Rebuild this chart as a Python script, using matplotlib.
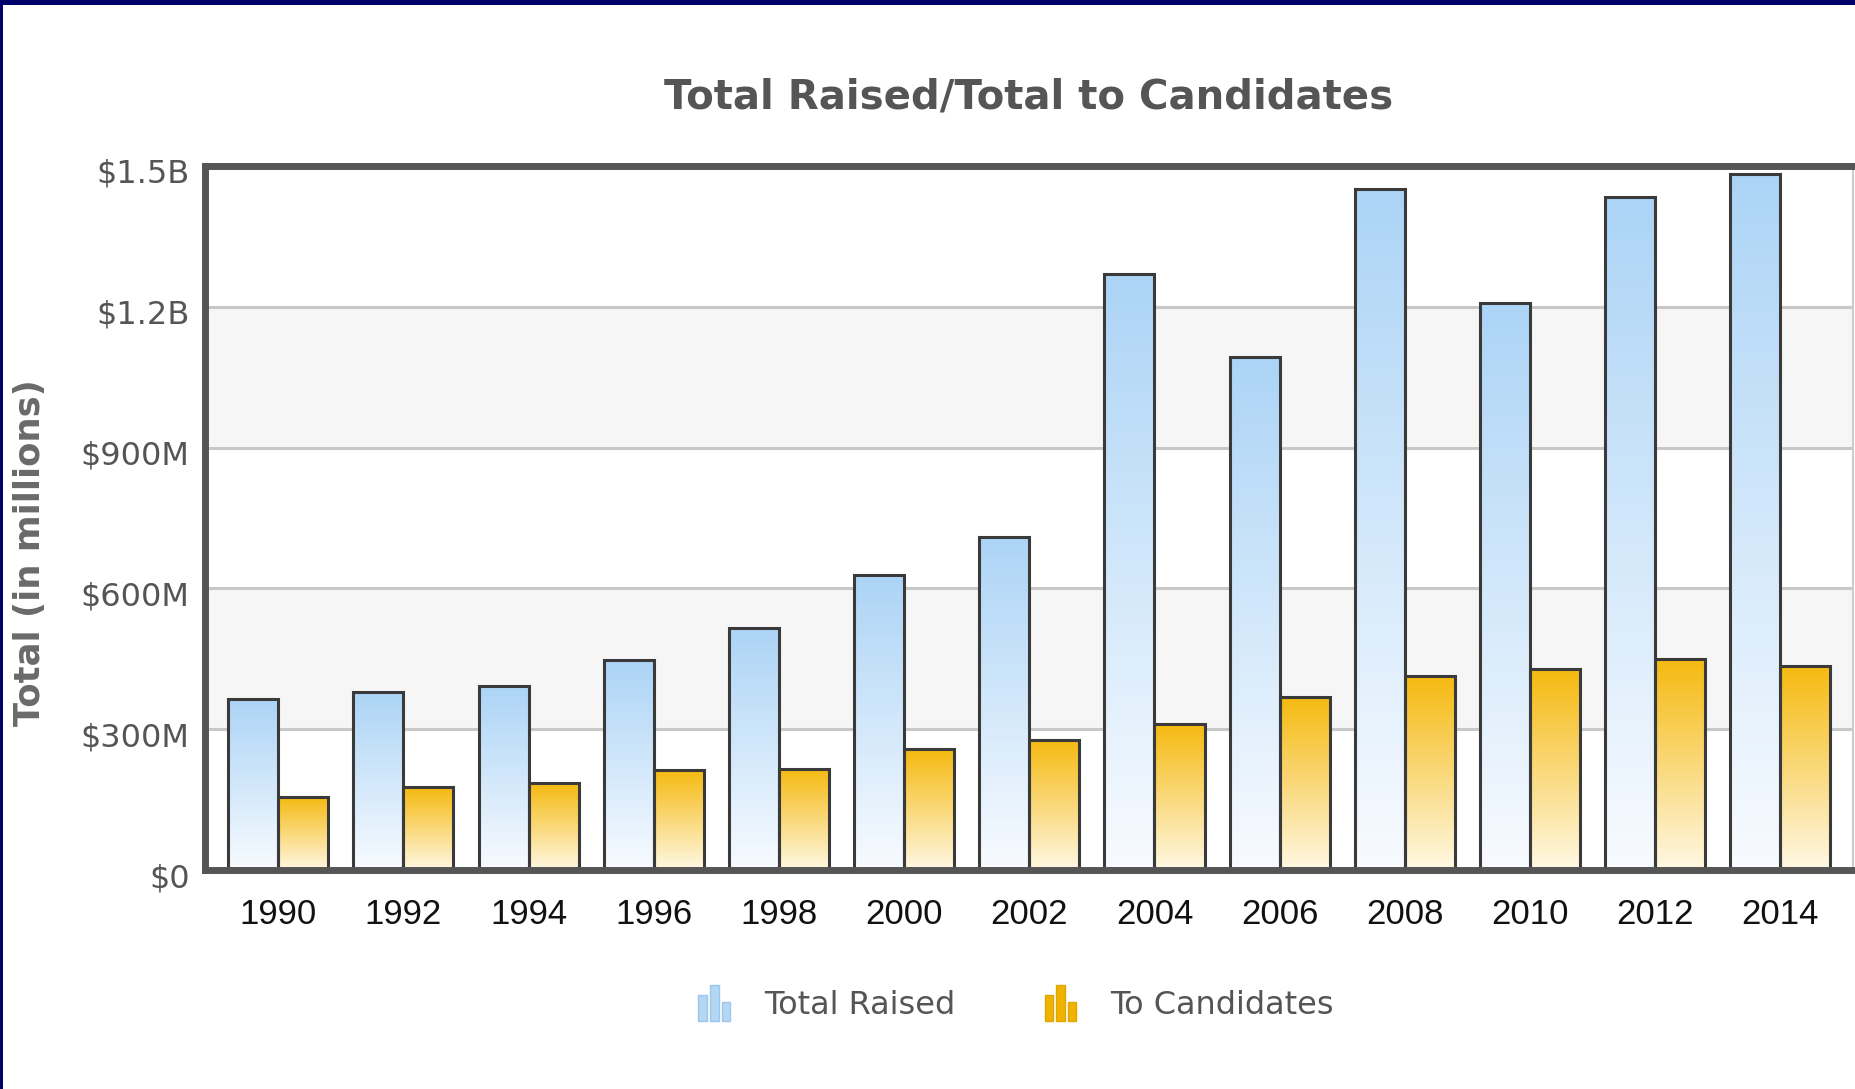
import numpy as np
import matplotlib
matplotlib.use("Agg")
import matplotlib.pyplot as plt
import matplotlib.transforms as mtransforms
from matplotlib.patches import Rectangle
from matplotlib.colors import LinearSegmentedColormap
from matplotlib.legend_handler import HandlerBase

years = ["1990", "1992", "1994", "1996", "1998", "2000", "2002",
         "2004", "2006", "2008", "2010", "2012", "2014"]
# millions of dollars
total_raised = [364, 379, 392, 447, 515, 628, 710, 1269, 1094, 1450, 1208, 1434, 1482]
to_candidates = [156, 176, 185, 214, 216, 257, 278, 312, 369, 414, 429, 450, 435]
y_ticks = [0, 300, 600, 900, 1200, 1500]
y_labels = ["$0", "$300M", "$600M", "$900M", "$1.2B", "$1.5B"]

W, H = 1855, 1089
fig = plt.figure(figsize=(W / 100, H / 100), dpi=100, facecolor="white")
ax = fig.add_axes([205 / W, 1 - 870 / H, (1853 - 205) / W, (870 - 166) / H])

x = np.arange(len(years))
bw = 0.4
grad = np.linspace(0, 1, 256).reshape(-1, 1)
blue_cmap = LinearSegmentedColormap.from_list("blue", ["#f8fbff", "#acd4f6"])
gold_cmap = LinearSegmentedColormap.from_list("gold", ["#fff8e4", "#f5b90f"])


def gradient_bars(xs, heights, cmap):
    bars = ax.bar(xs, heights, bw, facecolor="none", edgecolor="#3a3a3a",
                  linewidth=2.2, zorder=4)
    for b in bars:
        x0, y0 = b.get_x(), b.get_y()
        im = ax.imshow(grad, cmap=cmap, origin="lower", aspect="auto",
                       extent=(x0, x0 + b.get_width(), y0, y0 + b.get_height()),
                       zorder=3)
        im.set_clip_path(b)
    return bars


gradient_bars(x - bw / 2, total_raised, blue_cmap)
gradient_bars(x + bw / 2, to_candidates, gold_cmap)

# alternating bands + grid
ax.axhspan(300, 600, color="#f6f6f6", lw=0, zorder=0)
ax.axhspan(900, 1200, color="#f6f6f6", lw=0, zorder=0)
for yv in y_ticks[1:-1]:
    ax.axhline(yv, color="#c8c8c8", lw=2.2, zorder=1)

ax.set_xlim(-0.585, 12.58)
ax.set_ylim(0, 1500)

for side in ["left", "top", "bottom"]:
    ax.spines[side].set_color("#555555")
    ax.spines[side].set_linewidth(5)
    ax.spines[side].set_zorder(5)
ax.spines["right"].set_color("#cccccc")
ax.spines["right"].set_linewidth(1.5)

ax.set_yticks(y_ticks)
ax.set_yticklabels(y_labels)
ax.tick_params(axis="y", length=0, pad=11, labelsize=23, labelcolor="#555555")
ax.set_xticks(x)
ax.set_xticklabels(years)
ax.tick_params(axis="x", length=0, pad=20, labelsize=25, labelcolor="#111111")
for lab in ax.get_xticklabels():
    lab.set_fontfamily("Liberation Sans")
shift = mtransforms.ScaledTranslation(0, -0.05, fig.dpi_scale_trans)
for lab in ax.get_yticklabels():
    lab.set_transform(lab.get_transform() + shift)

fig.text(1029 / W, 1 - 98 / H, "Total Raised/Total to Candidates",
         ha="center", va="center", fontsize=29, fontweight="bold", color="#555555")
fig.text(30 / W, 1 - 553 / H, "Total (in millions)", rotation=90,
         ha="center", va="center", fontsize=25.5, fontweight="bold", color="#6a6a6a")


class BarIcon(HandlerBase):
    # little three-bar glyph used as legend key
    def create_artists(self, legend, orig_handle, xdescent, ydescent,
                       width, height, fontsize, trans):
        face = orig_handle.get_facecolor()
        edge = orig_handle.get_edgecolor()
        w = width / 3.7
        gap = (width - 3 * w) / 2
        out = []
        for i, frac in enumerate([0.71, 1.0, 0.54]):
            out.append(Rectangle((-xdescent + i * (w + gap), -ydescent), w, height * frac,
                                 facecolor=face, edgecolor=edge, lw=1, transform=trans))
        return out


handles = [Rectangle((0, 0), 1, 1, facecolor="#b3d7f4", edgecolor="#9cc7ec"),
           Rectangle((0, 0), 1, 1, facecolor="#f0b400", edgecolor="#dfa600")]
fig.legend(handles, ["Total Raised", "To Candidates"], loc="center",
           bbox_to_anchor=(1016 / W, 1 - 1003 / H), ncol=2, frameon=False,
           fontsize=23, labelcolor="#555555", handler_map={Rectangle: BarIcon()},
           handlelength=1.0, handleheight=1.36, handletextpad=1.05, columnspacing=2.8)

# navy frame along top and left edges
fig.add_artist(Rectangle((0, 1 - 5 / H), 1, 5 / H, transform=fig.transFigure,
                         color="#00006b", lw=0, zorder=10))
fig.add_artist(Rectangle((0, 0), 3 / W, 1, transform=fig.transFigure,
                         color="#00006b", lw=0, zorder=10))

fig.savefig("out.png", dpi=100)
